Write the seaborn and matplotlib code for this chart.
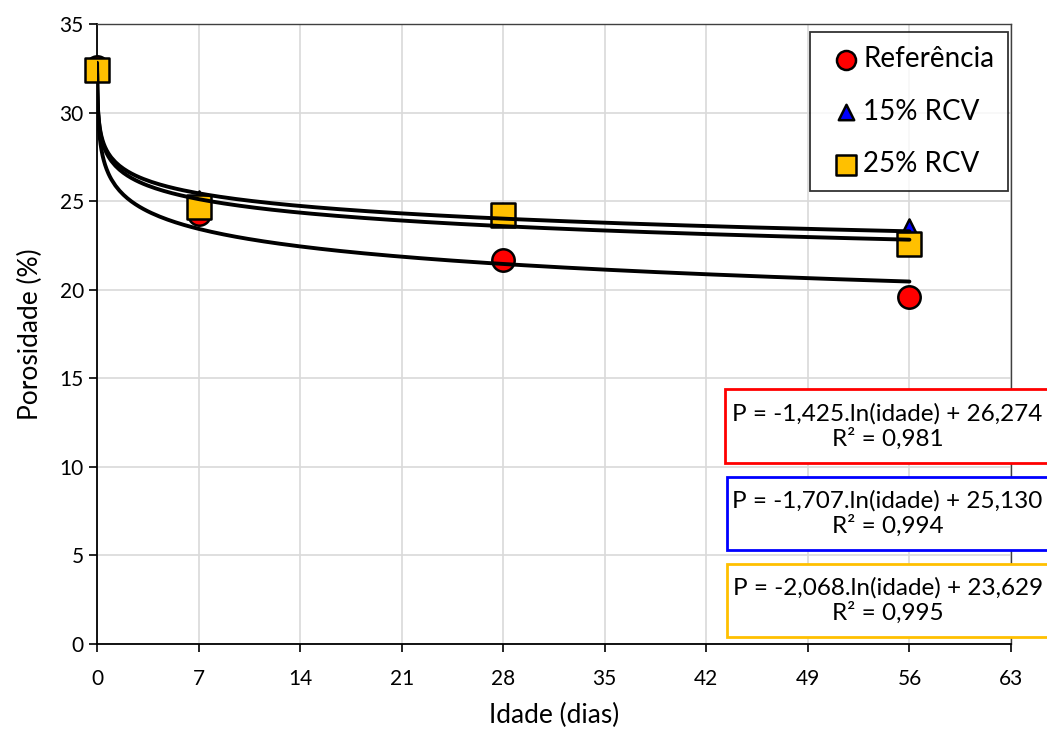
import numpy as np
import pandas as pd
import matplotlib
matplotlib.use("Agg")
import matplotlib.pyplot as plt
import matplotlib.patches as mpatches
import seaborn as sns

# ---- data ----
idade = [0, 7, 28, 56]
ref = [32.6, 24.3, 21.7, 19.6]
rcv15 = [32.3, 25.1, 24.1, 23.5]
rcv25 = [32.4, 24.7, 24.2, 22.6]
series_names = ["Referência", "15% RCV", "25% RCV"]
eq_texts = ["P = -1,425.ln(idade) + 26,274\nR² = 0,981",
            "P = -1,707.ln(idade) + 25,130\nR² = 0,994",
            "P = -2,068.ln(idade) + 23,629\nR² = 0,995"]
x_ticks = [0, 7, 14, 21, 28, 35, 42, 49, 56, 63]
y_ticks = [0, 5, 10, 15, 20, 25, 30, 35]

sns.set_style("white")
plt.rcParams['font.family'] = ['Lato', 'DejaVu Sans']
plt.rcParams['text.color'] = 'black'
plt.rcParams['axes.labelcolor'] = 'black'
plt.rcParams['xtick.color'] = 'black'
plt.rcParams['ytick.color'] = 'black'

fig = plt.figure(figsize=(10.47, 7.34), dpi=100)
ax = fig.add_axes([0.0926, 0.1226, 0.8730, 0.8444])

rows = []
for name, vals in zip(series_names, [ref, rcv15, rcv25]):
    for xi, yi in zip(idade, vals):
        rows.append({"Idade": xi, "Porosidade": yi, "Serie": name})
df = pd.DataFrame(rows)

colors = {"Referência": "#FF0000", "15% RCV": "#0000FF", "25% RCV": "#FFC000"}
markers = {"Referência": "o", "15% RCV": "^", "25% RCV": "s"}
sizes = {"Referência": 260, "15% RCV": 170, "25% RCV": 280}

# log trendlines (age 0 treated as 0.01 day, as in the spreadsheet fit)
xg = np.concatenate([np.logspace(-2, 0, 80), np.linspace(1, 56, 200)])
for name, vals in zip(series_names, [ref, rcv15, rcv25]):
    xl = np.log(np.maximum(np.array(idade, float), 0.01))
    a, b = np.polyfit(xl, vals, 1)
    ax.plot(xg, a * np.log(xg) + b, color="black", lw=2.8, zorder=5)

for name in series_names:
    sub = df[df.Serie == name]
    sns.scatterplot(data=sub, x="Idade", y="Porosidade", ax=ax,
                    color=colors[name], marker=markers[name], s=sizes[name],
                    edgecolor="black", linewidth=1.8, zorder=4, label=name,
                    clip_on=False)

ax.set_xlim(0, 63)
ax.set_ylim(0, 35)
ax.set_xticks(x_ticks)
ax.set_yticks(y_ticks)
ax.grid(True, color="#d9d9d9", lw=1.2)
ax.set_axisbelow(True)
for s in ["left", "bottom"]:
    ax.spines[s].set_color("black")
    ax.spines[s].set_linewidth(1.3)
for s in ["top", "right"]:
    ax.spines[s].set_color("#404040")
    ax.spines[s].set_linewidth(1.0)
ax.tick_params(axis="both", which="major", length=6, width=1.2, color="black",
               direction="out", labelsize=15, bottom=True, left=True)
ax.tick_params(axis="x", pad=12)
ax.set_xlabel("Idade (dias)", fontsize=19, labelpad=10)
ax.set_ylabel("Porosidade (%)", fontsize=19, labelpad=12)

leg = ax.legend(loc="upper right", bbox_to_anchor=(0.9967, 0.987), fontsize=20,
                frameon=True, fancybox=False, edgecolor="black",
                handletextpad=-0.2, labelspacing=0.95, borderpad=0.5,
                borderaxespad=0.0, markerscale=0.85, handlelength=1.6)
leg.get_frame().set_linewidth(1.3)

# equation boxes
box_colors = ["#FF0000", "#0000FF", "#FFC000"]
box_y = [(10.2, 14.4), (5.31, 9.43), (0.40, 4.52)]
box_x0 = [43.29, 43.42, 43.42]
for txt, bc, (y0, y1), x0 in zip(eq_texts, box_colors, box_y, box_x0):
    rect = mpatches.Rectangle((x0, y0), 30, y1 - y0, facecolor="white",
                              edgecolor=bc, lw=2, clip_on=False, zorder=6)
    ax.add_patch(rect)
    ax.text(54.5, (y0 + y1) / 2, txt, ha="center", va="center", fontsize=17.5,
            linespacing=1.15, zorder=7, clip_on=False)

fig.savefig("out.png", dpi=100)
